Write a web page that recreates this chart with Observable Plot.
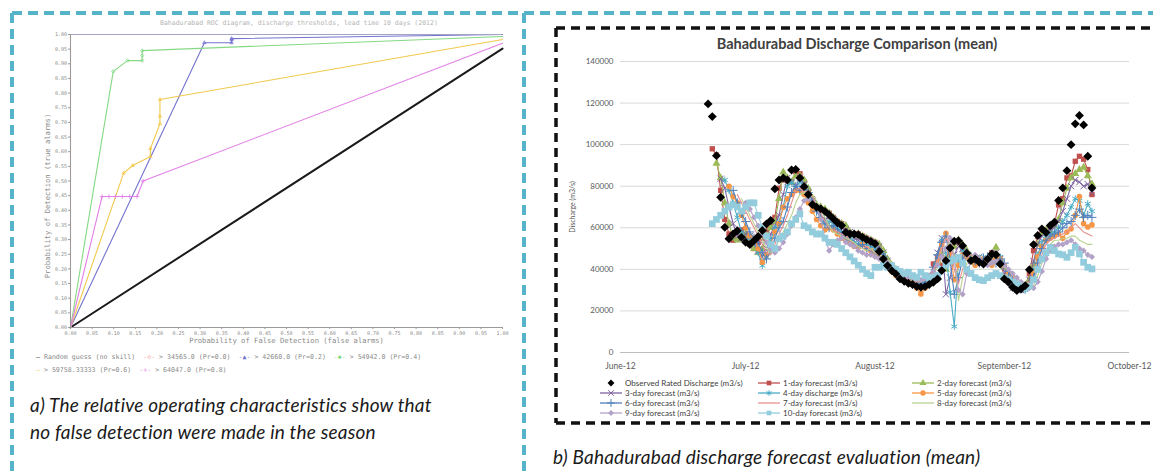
<!DOCTYPE html>
<html><head><meta charset="utf-8">
<script src="https://cdn.jsdelivr.net/npm/d3@7"></script>
<script src="https://cdn.jsdelivr.net/npm/@observablehq/plot@0.6"></script>
<style>
html,body{margin:0;padding:0;background:#fff;}
body{width:1153px;height:471px;position:relative;overflow:hidden;font-family:Lato,sans-serif;}
.abs{position:absolute;}
.cap{font-family:Lato,sans-serif;font-style:italic;font-size:19px;line-height:27px;color:#1a1a1a;white-space:nowrap;letter-spacing:0.2px;}
#rocTitle{font-family:"DejaVu Sans Mono",monospace;font-size:6.5px;color:#b5b5b5;white-space:nowrap;}
#rocLegend{font-family:"DejaVu Sans Mono",monospace;font-size:6.6px;color:#8a8a8a;line-height:13px;white-space:nowrap;}
#disTitle{font-family:Lato,sans-serif;font-weight:bold;font-size:14.5px;color:#404040;white-space:nowrap;transform:translateX(-50%);}
.lg{position:absolute;display:flex;align-items:center;font-family:Lato,sans-serif;font-size:8px;color:#404040;white-space:nowrap;height:10px;}
.lg svg{margin-right:3px;}
#overlay{position:absolute;left:0;top:0;pointer-events:none;}
</style></head><body>
<div id="roc" class="abs" style="left:20px;top:15px"></div>
<div id="rocTitle" class="abs" style="left:160px;top:19px">Bahadurabad ROC diagram, discharge thresholds, lead time 10 days (2012)</div>
<div id="rocLegend" class="abs" style="left:36px;top:351px"></div>
<div class="abs cap" style="left:30px;top:391px">a) The relative operating characteristics show that<br>no false detection were made in the season</div>

<div id="dis" class="abs" style="left:557px;top:30px"></div>
<div id="disTitle" class="abs" style="left:857px;top:35px">Bahadurabad Discharge Comparison (mean)</div>
<div id="disLegend"></div>
<div class="abs cap" style="left:553px;top:443px">b) Bahadurabad discharge forecast evaluation (mean)</div>

<svg id="overlay" width="1153" height="471"></svg>
<script>
// ---------------- Panel a: ROC data ----------------
const rocTicks = [0,0.05,0.1,0.15,0.2,0.25,0.3,0.35,0.4,0.45,0.5,0.55,0.6,0.65,0.7,0.75,0.8,0.85,0.9,0.95,1];
const rocNames = ["Random guess (no skill)", "> 34565.0 (Pr=0.0)", "> 42660.0 (Pr=0.2)", "> 54942.0 (Pr=0.4)", "> 59758.33333 (Pr=0.6)", "> 64047.0 (Pr=0.8)"];
const rocRandomX = [0, 1];
const rocRandomY = [0, 0.952];
const roc00X = [0, 0, 1];
const roc00Y = [0, 1, 1];
const roc02X = [0, 0.31, 0.373, 0.373, 0.373, 1];
const roc02Y = [0, 0.972, 0.972, 0.983, 0.986, 1];
const roc04X = [0, 0.099, 0.132, 0.166, 0.166, 0.166, 1];
const roc04Y = [0, 0.874, 0.911, 0.911, 0.928, 0.945, 0.993];
const roc06X = [0, 0.123, 0.144, 0.185, 0.185, 0.207, 0.207, 0.207, 1];
const roc06Y = [0, 0.527, 0.553, 0.584, 0.611, 0.695, 0.721, 0.778, 0.983];
const roc08X = [0, 0.073, 0.089, 0.104, 0.120, 0.137, 0.154, 0.168, 1];
const roc08Y = [0, 0.447, 0.447, 0.447, 0.447, 0.447, 0.447, 0.5, 0.97];
const rocXLabel = "Probability of False Detection (false alarms)";
const rocYLabel = "Probability of Detection (true alarms)";

// ---------------- Panel b: discharge data (thousand m3/s) ----------------
const monthTicks = ["2012-06-01","2012-07-01","2012-08-01","2012-09-01","2012-10-01"];
const monthLabels = ["June-12","July-12","August-12","September-12","October-12"];
const yTicks = [0,20000,40000,60000,80000,100000,120000,140000];
const disYLabel = "Discharge (m3/s)";

const observedStart = "2012-06-22";
const observed = [119.6,113.5,94.7,74.7,60.2,54.7,57.0,58.6,55.4,
 53.0,51.9,53.8,55.8,58.7,61.9,63.5,78.7,83.0,84.0,83.0,87.8,88.1,84.0,79.8,76.0,71.2,69.9,69.1,67.9,66.3,64.3,62.4,61.1,57.8,57.0,57.0,56.7,55.4,54.3,53.4,
 52.3,48.6,45.0,41.8,39.4,37.8,35.4,34.3,33.3,32.7,31.7,31.4,31.7,32.7,33.8,35.4,39.4,44.2,50.3,53.5,53.8,51.4,47.8,44.2,45.0,43.4,42.6,45.0,47.4,47.0,42.6,
 35.4,33.8,31.4,29.8,30.6,32.2,39.8,51.9,56.3,59.5,57.7,61.1,62.7,73.1,79.2,87.5,100.0,110.0,114.0,109.5,94.4,79.2];

const f1Start = "2012-06-23";
const f1 = [98,95,78,64,57,54,58,59,
 55,52,50,53,55,59,62,65,79,83,83,82,87,86,82,78,74,70,69,68,67,65,63,62,60,57,57,57,56,55,54,
 53,51,47,44,41,39,37,35,34,33,33,32,32,34,42.6,45.8,42,45,50,53,53,50,47,45,45,44,43,45,48,47,43,
 37,34,32,30,30,32,38,49,56,59,58,60,62,71,74,84,85,92,94.4,93,88,76];
const f2Start = "2012-06-24";
const f2 = [91,84,72,62,55,54,57,
 57,53,50,48,50,56,60,63,74,86.7,84,82,85,85,83,79,74,71,70,69,67,65,63,62,61,58,56,57,56,55,54,
 53,52,49,45,42,40,38,36,35,34,33,33,32,33,36,44,47,40,46,51,54,52,49,46,44,45,44,43,46,50.6,45,
 41,36,34,32,31,32,35,42,52,57,59,58,61,64,72,79,84,86,88,89,85,81];
const f3Start = "2012-06-25";
const f3 = [83.6,79,70,62,56,55,
 57,56,52,49,46,50,57,61,66,76,84,82,80,84,81,77,73,70,66,64,65,64,62,60,59,58,55,54,55,54,53,
 52,51,48,44,41,39,37,36,34,33,33,32,32,34,37,48,55,28,36,47,51,50,47,44,45,46,44,43,46,48,45,
 39,35,31,30,30,31,35,44,52,56,58,59,60,63,68,74,80,83,82,80,81,77];
const f4Start = "2012-06-26";
const f4 = [83,78,72,65,58,
 54,55,54,48,41.8,46,54,60,63,70,80,82,79,82,80,76,71,68,65,62,63,62,60,58,57,56,53,52,54,52,51,
 50,49,47,43,40,38,37,35,34,33,32,33,33,35,39,46,54,48,29,12.5,44,49,47,45,43,45,46,44,43,46,46,
 42,37,33,31,30,30,33,39,47,53,56,57,58,60,63,66,70,74,73,66,71.6,68];
const f5Start = "2012-06-27";
const f5 = [80,75,72,66,
 60,56,55,50,43.4,47,52,58,62,69.9,74,76,77.9,78,76,72,68,64,61,59,60,59,57,55,54,53,51,50.6,52,50,49,
 48,47,45,42,39,37,36,35,34,33,31,28.2,31,34,38,44,52,57.4,48,35,42,47,46,44,42,44,45,43,42,45,45,
 42,38,36,33,31,31,33,38,46,51,54,55,56,57,55,58,59.5,66,75,62,60.4,61.4];
const f6Start = "2012-06-28";
const f6 = [78,72,67,
 63,58,55,53,48,45,49,55,60,63,70,77,80,78,80,77,73,68,65,62,60,61,59,57,55,54,52,51,52,50,49,
 48,47,46,43,40,38,36,35,34,33,33,33,34,36,41,47,53,56,44,28,36,45,48,46,44,43,45,46,44,43,45,
 43,39,35,32,31,31,32,36,43,50,54,56,57,58,60,62,63,66,69,65,66,65];
const f7Start = "2012-06-29";
const f7 = [76,72,
 68,64,60,56,52,48,47,52,57,61,66,72,78,79,77,78,75,71,67,63,60,59,58,57,56,54,52,51,50,51,49,
 48,47,46,44,41,39,37,36,35,34,34,34,35,37,40,44,50,55,52,40,33,40,46,47,45,43,42,44,45,43,42,
 42,40,37,34,32,31,31,34,40,47,52,54,55,56,57,58,60,62,60,58,57,56];
const f8Start = "2012-06-30";
const f8 = [74,
 70,66,62,58,54,50,48,50,54,58,62,66,72,76,77,75,76,73,69,65,61,58,57,56,55,54,53,51,50,49,50,
 48,47,46,45,43,40,38,37,36,35,35,35,35,36,38,41,46,51,53,47,25,36,43,46,46,44,42,43,44,44,42,
 41,40,38,35,33,32,31,32,37,43,49,52,54,54,55,55,56,56,54,53,52,52];
const f9Start = "2012-07-01";
const f9 = [72,69,65,61,57,53,50,48,50,53,57,61,65,69,73,74,72,70,64,55,49,52,54,55,53,52,51,49,48,47,47,
 46,45,44,43,42,40,38,37,36,36,35,35,36,37,39,42,46,50,55,45,30,28,38,44,47,45,43,42,43,44,43,
 42,40,38,36,34,32,31,31,34,39,45,49,51,52,52,53,54,52,50,49,47,46];
const f10Start = "2012-06-23";
const f10 = [62,64,66,68,70,71,70,68,
 70,72,72,66,60,56,52,50,54.8,56,58,62,64,66.7,61,60,58,57,57,55,53,53,52,50,48,46,44,42,40,38,37,
 41,41,42,41,41.8,40,39,38,38.6,37,36.2,38.6,37,36,36.2,37,40,42,44,45,45.8,43,40,38,36,35,34.6,36,37,38,37,
 36,35,34,33,32,31,32,35,40,45,48,50.6,49,47.4,47,45.8,48,50.6,47.4,43.4,41,40.2];

// ---------------- helpers ----------------
const pts = (xs, ys) => xs.map((x, i) => ({x, y: ys[i]}));
const parseDay = s => new Date(s + "T00:00:00Z");
const toRows = (start, vals) => { const t0 = +parseDay(start); return vals.map((v, i) => ({date: new Date(t0 + i * 864e5), q: v * 1000})); };

// ---------------- ROC plot ----------------
const rocStyles = [
  {xs: rocRandomX, ys: rocRandomY, color: "#1a1a1a", w: 2, sym: null},
  {xs: roc00X, ys: roc00Y, color: "#f4a0a0", w: 1.1, sym: "diamond2"},
  {xs: roc02X, ys: roc02Y, color: "#7373cf", w: 1.1, sym: "triangle2"},
  {xs: roc04X, ys: roc04Y, color: "#84d984", w: 1.1, sym: "diamond2"},
  {xs: roc06X, ys: roc06Y, color: "#f2c94c", w: 1.1, sym: "triangle2"},
  {xs: roc08X, ys: roc08Y, color: "#e27fe6", w: 1.1, sym: "plus"}
];
const rocMarks = [];
rocStyles.forEach((s, k) => {
  const d = pts(s.xs, s.ys);
  rocMarks.push(Plot.line(d, {x: "x", y: "y", stroke: s.color, strokeWidth: s.w}));
  if (s.sym && k > 1) rocMarks.push(Plot.dot(d.slice(1, -1), {x: "x", y: "y", symbol: s.sym, r: 1.6, stroke: s.color, strokeWidth: 0.8, fill: "none"}));
});
rocMarks.push(
  Plot.ruleY([1], {stroke: "#a3a3c4", strokeWidth: 1.2}),
  Plot.ruleX([0], {stroke: "#9a9a9a", strokeWidth: 1}),
  Plot.ruleY([0], {stroke: "#9a9a9a", strokeWidth: 1.2}),
  Plot.axisX(rocTicks, {tickSize: 2, tickPadding: 1.5, tickFormat: d3.format(".2f"), fontSize: 5, fill: "#8a8a8a", stroke: "#9a9a9a", label: null}),
  Plot.axisY(rocTicks, {tickSize: 2, tickPadding: 1.5, tickFormat: d3.format(".2f"), fontSize: 5, fill: "#8a8a8a", stroke: "#9a9a9a", label: null}),
  Plot.text([rocXLabel], {frameAnchor: "bottom", textAnchor: "middle", dy: 15, fontSize: 7.2, fill: "#8a8a8a"}),
  Plot.text([rocYLabel], {frameAnchor: "left", textAnchor: "middle", rotate: -90, dx: -23, dy: 15, fontSize: 7.2, fill: "#8a8a8a"})
);
document.getElementById("roc").appendChild(Plot.plot({
  width: 500, height: 335, marginLeft: 50, marginRight: 18, marginTop: 19, marginBottom: 23,
  x: {domain: [0, 1]}, y: {domain: [0, 1]},
  style: {fontFamily: "DejaVu Sans Mono, monospace", fontSize: "5px", background: "white", color: "#8a8a8a", overflow: "visible"},
  marks: rocMarks
}));

// ROC legend
const rocLegendSyms = ["—", "-◇-", "-▲-", "-◆-", "—", "-+-"];
const legHtml = rocNames.map((n, i) => `<span style="color:${rocStyles[i].color}">${rocLegendSyms[i]}</span> ${n}`);
document.getElementById("rocLegend").innerHTML = legHtml.slice(0, 4).join("&nbsp;&nbsp;") + "<br>" + legHtml.slice(4).join("&nbsp;&nbsp;");

// ---------------- Discharge plot ----------------
const forecastDefs = [
  {name: "1-day forecast (m3/s)", start: f1Start, values: f1, color: "#C0504D", symbol: "square", r: 3, filled: true},
  {name: "2-day forecast (m3/s)", start: f2Start, values: f2, color: "#9BBB59", symbol: "triangle", r: 3, filled: true},
  {name: "3-day forecast (m3/s)", start: f3Start, values: f3, color: "#8064A2", symbol: "times", r: 3, filled: false},
  {name: "4-day discharge (m3/s)", start: f4Start, values: f4, color: "#4BACC6", symbol: "asterisk", r: 3.2, filled: false},
  {name: "5-day forecast (m3/s)", start: f5Start, values: f5, color: "#F79646", symbol: "circle", r: 2.8, filled: true},
  {name: "6-day forecast (m3/s)", start: f6Start, values: f6, color: "#4F81BD", symbol: "plus", r: 3, filled: false},
  {name: "7-day forecast (m3/s)", start: f7Start, values: f7, color: "#E6908D", symbol: null},
  {name: "8-day forecast (m3/s)", start: f8Start, values: f8, color: "#B9D38E", symbol: null},
  {name: "9-day forecast (m3/s)", start: f9Start, values: f9, color: "#B3A2C7", symbol: "diamond2", r: 2.8, filled: true},
  {name: "10-day forecast (m3/s)", start: f10Start, values: f10, color: "#93CDDD", symbol: "square", r: 3.8, filled: true}
];
const obsRows = toRows(observedStart, observed);
const disMarks = [
  Plot.gridY(yTicks, {stroke: "#d9d9d9", strokeOpacity: 1, strokeWidth: 1}),
  Plot.ruleY([0], {stroke: "#bdbdbd", strokeWidth: 1})
];
forecastDefs.forEach(d => {
  const rows = toRows(d.start, d.values);
  disMarks.push(Plot.line(rows, {x: "date", y: "q", stroke: d.color, strokeWidth: 1.1}));
  if (d.symbol) disMarks.push(Plot.dot(rows, {x: "date", y: "q", symbol: d.symbol, r: d.r,
    fill: d.filled ? d.color : "none", stroke: d.filled ? "none" : d.color, strokeWidth: 1}));
});
disMarks.push(
  Plot.dot(obsRows, {x: "date", y: "q", symbol: "diamond2", r: 4, fill: "#000", stroke: "none"}),
  Plot.axisY(yTicks, {tickSize: 0, tickPadding: 7, fontSize: 8, fill: "#595959", label: null, tickFormat: d => String(d)}),
  Plot.axisX(monthTicks.map(parseDay), {tickSize: 0, tickPadding: 10, fontSize: 8.5, fill: "#595959", label: null,
    tickFormat: d => monthLabels[monthTicks.findIndex(t => +parseDay(t) === +d)]}),
  Plot.text([disYLabel], {frameAnchor: "left", textAnchor: "middle", rotate: -90, dx: -48, fontSize: 7, fill: "#595959"})
);
document.getElementById("dis").appendChild(Plot.plot({
  width: 596, height: 344, marginLeft: 63, marginRight: 24, marginTop: 31, marginBottom: 22,
  x: {type: "utc", domain: [parseDay(monthTicks[0]), parseDay(monthTicks[4])]},
  y: {domain: [0, 140000]},
  style: {fontFamily: "Lato, sans-serif", fontSize: "8px", background: "white", color: "#595959", overflow: "visible"},
  marks: disMarks
}));

// discharge legend (HTML)
const legendItems = [
  {name: "Observed Rated Discharge (m3/s)", color: "#000", symbol: d3.symbolDiamond2, line: false, filled: true, size: 30},
  ...forecastDefs.map(d => ({name: d.name, color: d.color, line: true, filled: d.filled,
    symbol: d.symbol ? ({square: d3.symbolSquare, triangle: d3.symbolTriangle, times: d3.symbolTimes, asterisk: d3.symbolAsterisk,
      circle: d3.symbolCircle, plus: d3.symbolPlus, diamond2: d3.symbolDiamond2})[d.symbol] : null, size: 22}))
];
const colX = [600, 758, 912], rowY = [378, 388, 398, 408];
const lgRoot = document.getElementById("disLegend");
legendItems.forEach((it, i) => {
  const div = document.createElement("div");
  div.className = "lg";
  div.style.left = colX[i % 3] + "px";
  div.style.top = rowY[Math.floor(i / 3)] + "px";
  let sw = `<svg width="22" height="10" viewBox="0 0 22 10">`;
  if (it.line) sw += `<line x1="0" y1="5" x2="22" y2="5" stroke="${it.color}" stroke-width="1.3"/>`;
  if (it.symbol) sw += `<path transform="translate(11,5)" d="${d3.symbol(it.symbol, it.size)()}" fill="${it.filled ? it.color : "none"}" stroke="${it.filled ? "none" : it.color}" stroke-width="1"/>`;
  sw += `</svg>`;
  div.innerHTML = sw + `<span>${it.name}</span>`;
  lgRoot.appendChild(div);
});

// ---------------- decorative dashed frames ----------------
const ov = d3.select("#overlay");
const teal = [[12, 13, 1153, 13], [12, 13, 12, 471], [524, 13, 524, 471]];
teal.forEach(([x1, y1, x2, y2]) => ov.append("line").attr("x1", x1).attr("y1", y1).attr("x2", x2).attr("y2", y2)
  .attr("stroke", "#55b4c7").attr("stroke-width", 4).attr("stroke-dasharray", "10 6"));
const blk = [[556, 28, 1153, 28], [556, 28, 556, 423], [556, 423, 1153, 423]];
blk.forEach(([x1, y1, x2, y2]) => ov.append("line").attr("x1", x1).attr("y1", y1).attr("x2", x2).attr("y2", y2)
  .attr("stroke", "#111").attr("stroke-width", 3.5).attr("stroke-dasharray", "9 6"));
</script>
</body></html>
